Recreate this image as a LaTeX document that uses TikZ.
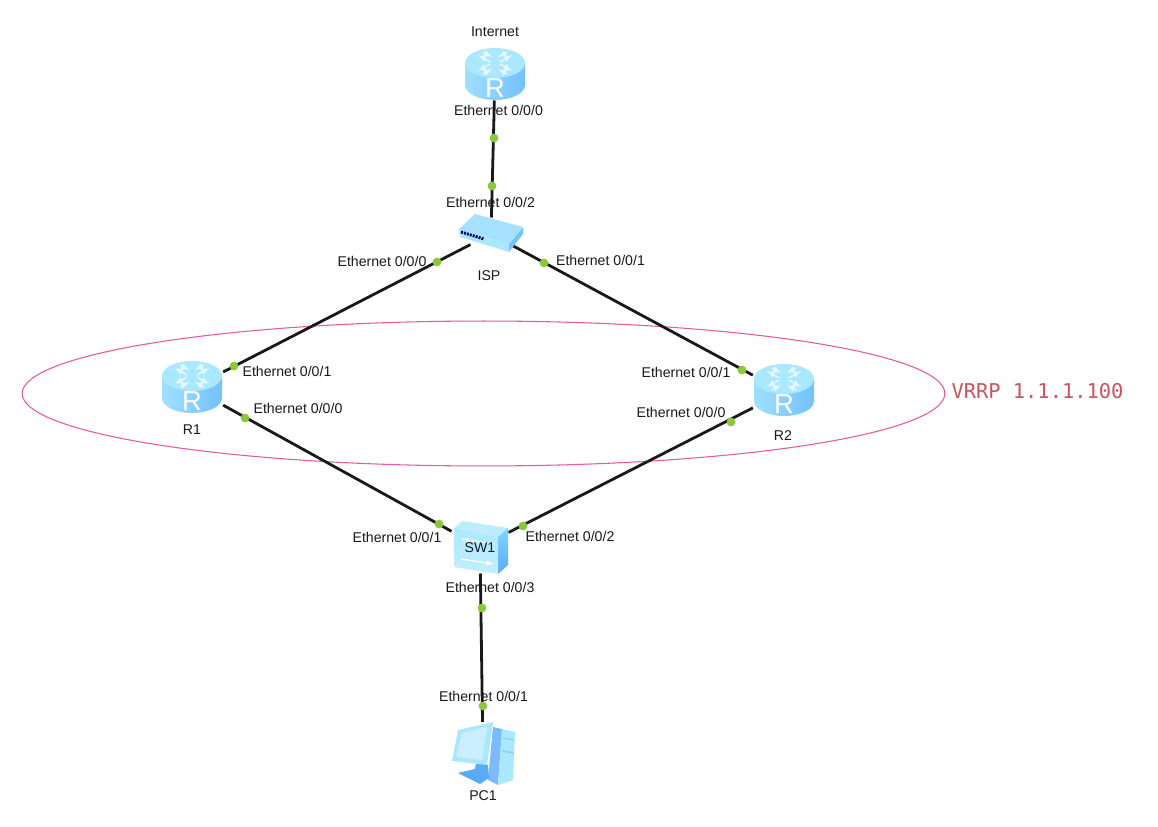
\documentclass[tikz,border=0pt]{standalone}
\usepackage{fontspec}
\setmainfont{Liberation Sans}
\newfontfamily\vrrpfont{DejaVu Sans Mono}
\usetikzlibrary{shapes.geometric}

\definecolor{linkgreen}{RGB}{140,200,60}
\definecolor{ringpink}{RGB}{232,90,160}
\definecolor{vrrpred}{RGB}{200,84,96}
\definecolor{iconlight}{RGB}{170,232,255}
\definecolor{iconmid}{RGB}{128,214,255}
\definecolor{icondark}{RGB}{90,170,250}

\tikzset{every picture/.style={line width=0.75pt}}
\tikzset{
	devbox/.style={inner sep=0pt, minimum width=#1},
	devbox/.default=45pt,
	portlabel/.style={inner sep=0pt, font=\fontsize{10.6}{12}\selectfont, text=black!90},
	link/.style={line width=2.1pt, black!90},
	portdot/.style={circle, fill=linkgreen, inner sep=0pt, minimum size=6.6pt},
	vrrpring/.style={ellipse, draw=ringpink, line width=0.8pt, inner sep=0pt, minimum width=692pt, minimum height=108.7pt},
	% router, drawn around its own centre
	routericon/.pic={
		\begin{scope}[yscale=-1]
		\path [left color=iconmid!75!white, right color=iconmid!90!blue, draw=none]
			(-30,-12) -- (-30,10) arc [start angle=180, end angle=0, x radius=30, y radius=15] -- (30,-12) -- cycle;
		\fill [iconlight] (0,-12) ellipse [x radius=30, y radius=15];
		\foreach \sx/\sy in {-1/-1, 1/-1, -1/1, 1/1} {
			\draw [white!70!iconlight, line width=1.1pt, -latex] (\sx*5,-12+\sy*1) -- (\sx*17,-12+\sy*8);
			\draw [white!70!iconlight, line width=1.1pt, latex-] (\sx*3,-12+\sy*6) -- (\sx*12,-12+\sy*11);
		}
		\node (-glyph) at (0,13) [inner sep=0pt, text=white, font=\fontsize{20.5}{21}\selectfont] {R};
		\end{scope}
	},
	hubicon/.pic={
		\begin{scope}[yscale=-1]
		\fill [iconmid!90!blue] (18,10) -- (32,-7) -- (32,0) -- (18,18) -- cycle;
		\fill [iconlight] (-32,-5) -- (18,10) -- (18,18) -- (-31,3) -- cycle;
		\fill [iconmid!70!white] (-32,-5) -- (-16,-20) -- (32,-7) -- (18,10) -- cycle;
		\draw [blue!45!black, line width=2.2pt, dash pattern={on 1.5pt off 0.8pt}] (-30,-2) -- (-7,5);
		\end{scope}
	},
	switchicon/.pic={
		\begin{scope}[yscale=-1]
		\fill [iconlight!80!white] (-26,-19) -- (-18,-26) -- (28,-19) -- (18,-10) -- cycle;
		\path [top color=iconmid, bottom color=icondark] (18,-10) -- (28,-19) -- (28,18) -- (18,27) -- cycle;
		\path [top color=iconlight, bottom color=iconlight!70!white] (-26,-19) -- (18,-10) -- (18,27) -- (-26,20) -- cycle;
		\draw [white, line width=0.9pt, -latex] (14,-3) -- (-19,-8);
		\draw [white, line width=0.9pt, -latex] (-19,12) -- (14,17);
		\end{scope}
	},
	pcicon/.pic={
		\begin{scope}[yscale=-1]
		% tower
		\fill [icondark!80!white] (10,-28) -- (19,-26) -- (15,30) -- (5,25) -- cycle;
		\fill [iconlight] (19,-26) -- (32,-23) -- (30,25) -- (15,30) -- cycle;
		\draw [iconmid, line width=1pt] (20,-17) -- (31,-15) (19,-4) -- (31,-2);
		% stand
		\fill [icondark] (-25,18) -- (-8,14) -- (-7,8) -- (5,10) -- (6,23) -- (-3,29) -- cycle;
		% screen
		\fill [iconlight] (-25,-25) -- (10,-33) -- (4,10) -- (-31,6) -- cycle;
		\fill [iconmid!40!white] (-21,-22) -- (4,-28) -- (-1,5) -- (-27,2) -- cycle;
		\end{scope}
	}
}

\begin{document}
\begin{tikzpicture}[x=0.75pt,y=0.75pt,yscale=-1,xscale=1]
	\useasboundingbox (0,0) rectangle (1158,827);
	\fill [white] (0,0) rectangle (1158,827);

	%Shape: Ellipse
	\node [vrrpring] (ring) at (483.5,393.5) {};

	% Devices, the links end on these boxes
	\node [devbox=45pt, minimum height=37.5pt] (Internet) at (495,75) {};
	\node [devbox=30pt, minimum height=24pt] (ISP) at (491,234) {};
	\node [devbox=46pt, minimum height=37.5pt] (R1) at (192,388) {};
	\node [devbox=46pt, minimum height=37.5pt] (R2) at (784,392) {};
	\node [devbox=42pt, minimum height=39pt] (SW1) at (480,547) {};
	\node [devbox=45pt, minimum height=49pt] (PC1) at (483,755) {};

	% Text Node
	\node [portlabel] (lblInternet) at (495,32) {Internet};
	\node [portlabel] (lblInternetEth) at (498.5,110) {Ethernet 0/0/0};
	\node [portlabel] (lblIspUp) at (490.5,202) {Ethernet 0/0/2};
	\node [portlabel] (lblIspLeft) at (382,261) {Ethernet 0/0/0};
	\node [portlabel] (lblIspRight) at (600.5,260) {Ethernet 0/0/1};
	\node [portlabel] (lblIsp) at (489,276) {ISP};
	\node [portlabel] (lblOneUp) at (287,371) {Ethernet 0/0/1};
	\node [portlabel] (lblOneDown) at (298,408) {Ethernet 0/0/0};
	\node [portlabel] (lblOne) at (192,430) {R1};
	\node [portlabel] (lblTwoUp) at (686,372) {Ethernet 0/0/1};
	\node [portlabel] (lblTwoDown) at (681,412.5) {Ethernet 0/0/0};
	\node [portlabel] (lblTwo) at (783,436) {R2};
	\node [portlabel] (lblSwLeft) at (397,537) {Ethernet 0/0/1};
	\node [portlabel] (lblSwRight) at (570,536) {Ethernet 0/0/2};
	\node [portlabel] (lblSwDown) at (490,587) {Ethernet 0/0/3};
	\node [portlabel] (lblPcEth) at (483.5,696) {Ethernet 0/0/1};
	\node [portlabel] (lblPc) at (483,796) {PC1};
	\node [inner sep=0pt, anchor=west, text=vrrpred, font=\vrrpfont\fontsize{15.3}{17}\selectfont] (lblVrrp) at (951,391) {VRRP 1.1.1.100};

	%Straight Lines
	\draw [link] (Internet) -- (ISP);
	\draw [link] (ISP) -- (R1);
	\draw [link] (ISP) -- (R2);
	\draw [link] (R1) -- (SW1);
	\draw [link] (R2) -- (SW1);
	\draw [link] (SW1) -- (PC1);

	%Shape: Circle
	\node [portdot] (dotA) at (494,138) {};
	\node [portdot] (dotB) at (492,186) {};
	\node [portdot] (dotC) at (437,262) {};
	\node [portdot] (dotD) at (544,263) {};
	\node [portdot] (dotE) at (234,366) {};
	\node [portdot] (dotF) at (742,370) {};
	\node [portdot] (dotG) at (245,418) {};
	\node [portdot] (dotH) at (731,422) {};
	\node [portdot] (dotI) at (439,524) {};
	\node [portdot] (dotJ) at (523,526) {};
	\node [portdot] (dotK) at (482,608) {};
	\node [portdot] (dotL) at (483,706) {};

	% Icons go over the link ends
	\pic (iconInternet) at (495,75) {routericon};
	\pic (iconOne) at (192,388) {routericon};
	\pic (iconTwo) at (784,391) {routericon};
	\pic (iconIsp) at (491,234) {hubicon};
	\pic (iconSw) at (480,547) {switchicon};
	\pic (iconPc) at (483,755) {pcicon};

	\node [portlabel] (lblSw) at (480,548) {SW1};
\end{tikzpicture}
\end{document}
